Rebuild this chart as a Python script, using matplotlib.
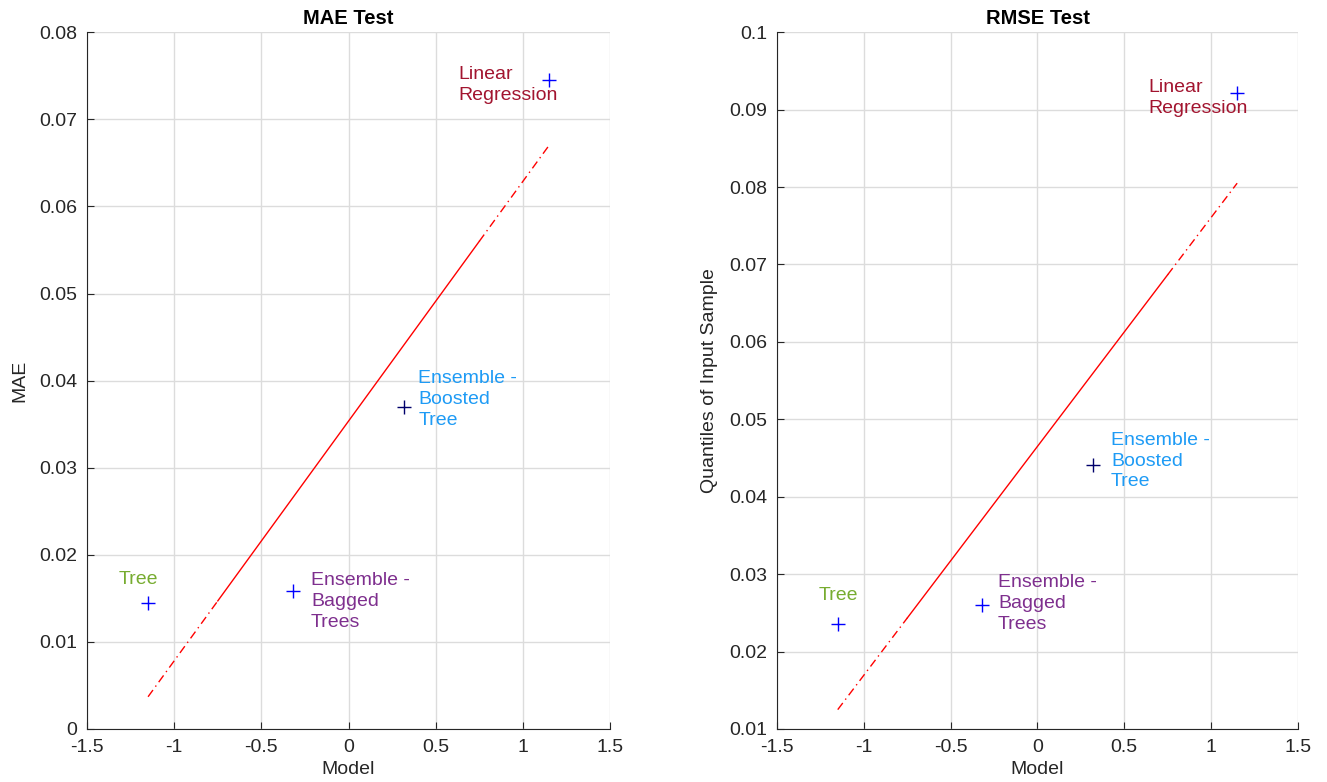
import numpy as np
import matplotlib.pyplot as plt

plt.rcParams['font.family'] = ['Liberation Sans', 'DejaVu Sans']

# normal quantiles used on the x axis (one per model, sorted by score)
quantiles = [-1.15, -0.32, 0.32, 1.15]
models = ["Tree", "Ensemble -\nBagged\nTrees", "Ensemble -\nBoosted\nTree", "Linear\nRegression"]
model_colors = ["#77AC30", "#7E2F8E", "#1E9BF5", "#A2142F"]
marker_colors = ["blue", "blue", "#00006B", "blue"]

mae = [0.0145, 0.0158, 0.0370, 0.0745]
rmse = [0.0236, 0.0260, 0.0441, 0.0921]

# reference lines: x of ends and of the solid middle part, with y at the ends
line_x = [-1.15, -0.75, 0.75, 1.15]
mae_line = [0.0037, 0.0670]
rmse_line = [0.0125, 0.0805]

# label anchor (top-left corner of text)
mae_label_x = [-1.32, -0.215, 0.40, 0.63]
mae_label_y = [0.0181, 0.0180, 0.0412, 0.0761]
rmse_label_x = [-1.26, -0.227, 0.423, 0.636]
rmse_label_y = [0.0283, 0.0300, 0.0484, 0.0940]

fig = plt.figure(figsize=(13.27, 7.82), dpi=100)
ax1 = fig.add_axes([0.0656, 0.0678, 0.3941, 0.891])
ax2 = fig.add_axes([0.5855, 0.0678, 0.3926, 0.891])


def draw(ax, vals, line_y, lab_x, lab_y, ylim, yticks, ylabel, title):
    x0, x1 = line_x[0], line_x[-1]
    slope = (line_y[1] - line_y[0]) / (x1 - x0)

    def ly(x):
        return line_y[0] + slope * (x - x0)

    # dash-dot outer parts, solid middle
    ax.plot([line_x[0], line_x[1]], [ly(line_x[0]), ly(line_x[1])], color="red",
            lw=1, linestyle=(0, (6, 3, 1, 3)))
    ax.plot([line_x[1], line_x[2]], [ly(line_x[1]), ly(line_x[2])], color="red", lw=1)
    ax.plot([line_x[2], line_x[3]], [ly(line_x[2]), ly(line_x[3])], color="red",
            lw=1, linestyle=(0, (6, 3, 1, 3)))

    for i in range(len(vals)):
        ax.plot(quantiles[i], vals[i], marker="+", color=marker_colors[i],
                markersize=10, mew=1, linestyle="none")
        ax.text(lab_x[i], lab_y[i], models[i], color=model_colors[i], fontsize=14,
                va="top", ha="left", linespacing=1.3)

    ax.set_xlim(-1.5, 1.5)
    ax.set_ylim(*ylim)
    ax.set_xticks(np.arange(-1.5, 1.51, 0.5))
    ax.set_xticklabels(["-1.5", "-1", "-0.5", "0", "0.5", "1", "1.5"])
    ax.set_yticks(yticks)
    ax.set_yticklabels([("%g" % t) for t in yticks])
    ax.grid(True, color="#dcdcdc", lw=1)
    ax.set_axisbelow(True)
    ax.spines['top'].set_visible(False)
    ax.spines['right'].set_visible(False)
    ax.spines['left'].set_color("#262626")
    ax.spines['bottom'].set_color("#262626")
    ax.tick_params(direction="in", length=5, colors="#262626", labelsize=14, pad=7)
    ax.set_xlabel("Model", fontsize=14, color="#262626", labelpad=4)
    ax.set_ylabel(ylabel, fontsize=14, color="#262626", labelpad=8)
    ax.set_title(title, fontsize=14.5, fontweight="bold", pad=6)


draw(ax1, mae, mae_line, mae_label_x, mae_label_y, (0, 0.08),
     np.round(np.arange(0, 0.081, 0.01), 2), "MAE", "MAE Test")
draw(ax2, rmse, rmse_line, rmse_label_x, rmse_label_y, (0.01, 0.1),
     np.round(np.arange(0.01, 0.101, 0.01), 2), "Quantiles of Input Sample", "RMSE Test")

fig.savefig("out.png", dpi=100)
